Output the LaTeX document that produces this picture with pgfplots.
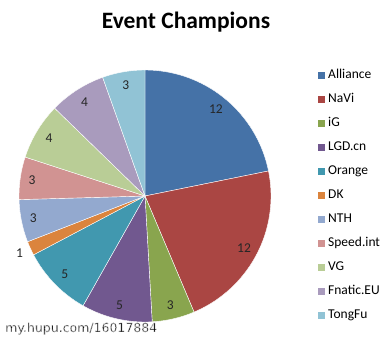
\documentclass[border=0pt]{standalone}
\usepackage{fontspec}
\setmainfont{Carlito}
\newfontfamily\wmfont{DejaVu Sans}
\usepackage{pgfplots}
\pgfplotsset{compat=1.18}

% Excel 2007 chart palette
\definecolor{cAlliance}{HTML}{4572A7}
\definecolor{cNaVi}{HTML}{AA4643}
\definecolor{ciG}{HTML}{89A54E}
\definecolor{cLGD}{HTML}{71588F}
\definecolor{cOrange}{HTML}{4198AF}
\definecolor{cDK}{HTML}{DB843D}
\definecolor{cNTH}{HTML}{93A9CF}
\definecolor{cSpeed}{HTML}{D19392}
\definecolor{cVG}{HTML}{B9CD96}
\definecolor{cFnatic}{HTML}{A99BBD}
\definecolor{cTongFu}{HTML}{91C3D5}

\newcommand\labelfont{\fontsize{13.5}{15}\selectfont\color{black!85}}

% pie geometry (drawing units)
\def\cx{145}\def\cy{196}\def\rr{126}
\def\total{55}
\gdef\cum{0}

% one slice: value, colour, name, label radius
\newcommand\slice[4]{%
  \pgfmathsetmacro\sa{\cum/\total*360}%
  \pgfmathsetmacro\sb{(\cum+#1)/\total*360}%
  \pgfmathsetmacro\sm{(\sa+\sb)/2}%
  \pgfmathsetmacro\lx{\cx+#4*sin(\sm)}%
  \pgfmathsetmacro\ly{\cy-#4*cos(\sm)}%
  \edef\doslice{%
    \noexpand\addplot[fill=#2, draw=white, line width=0.4pt, domain=\sa:\sb, samples=60]
      ({\cx+\rr*sin(x)},{\cy-\rr*cos(x)}) -- (axis cs:\cx,\cy) -- cycle;
    \noexpand\addlegendentry{#3}
    \noexpand\node[font=\noexpand\labelfont] at (axis cs:\lx,\ly) {#1};
  }%
  \doslice
  \pgfmathsetmacro\newcum{\cum+#1}%
  \global\let\cum\newcum
}

\begin{document}
\begin{tikzpicture}
\begin{axis}[
  name=ax,
  scale only axis, width=387pt, height=339pt,
  xmin=0, xmax=387, ymin=0, ymax=339, y dir=reverse,
  hide axis, clip=false,
  legend image code/.code={\fill[#1, draw=none] (0pt,-3.5pt) rectangle (7pt,3.5pt);},
  legend style={at={(axis cs:318,69)}, anchor=north west, draw=none, fill=none,
    inner sep=0pt, row sep=12pt, font=\fontsize{13.5}{15}\selectfont,
    nodes={inner xsep=3pt, inner ysep=0pt, text height=9pt, text depth=3pt},
    cells={anchor=west}},
]
\slice{12}{cAlliance}{Alliance}{112}
\slice{12}{cNaVi}{NaVi}{112}
\slice{3}{ciG}{iG}{112}
\slice{5}{cLGD}{LGD.cn}{112}
\slice{5}{cOrange}{Orange}{112}
\slice{1}{cDK}{DK}{138}
\slice{3}{cNTH}{NTH}{114}
\slice{3}{cSpeed}{Speed.int}{114}
\slice{4}{cVG}{VG}{112}
\slice{4}{cFnatic}{Fnatic.EU}{112}
\slice{3}{cTongFu}{TongFu}{112}
\node[anchor=base, font=\bfseries\fontsize{23.5}{26}\selectfont] at (axis cs:186,29) {Event Champions};
\end{axis}
% watermark: dark glyphs with a thin white stroke round them
\node[anchor=base west, inner sep=0pt, text=black, font=\wmfont\fontsize{12.5}{14}\selectfont]
  at ([shift={(5pt,-332pt)}]ax.north west)
  {\special{pdf:literal direct 2 Tr 1 1 1 RG 0.3 w}my.hupu.com/16017884\special{pdf:literal direct 0 Tr}};
\pgfresetboundingbox
\useasboundingbox (ax.south west) rectangle (ax.north east);
\end{tikzpicture}
\end{document}
